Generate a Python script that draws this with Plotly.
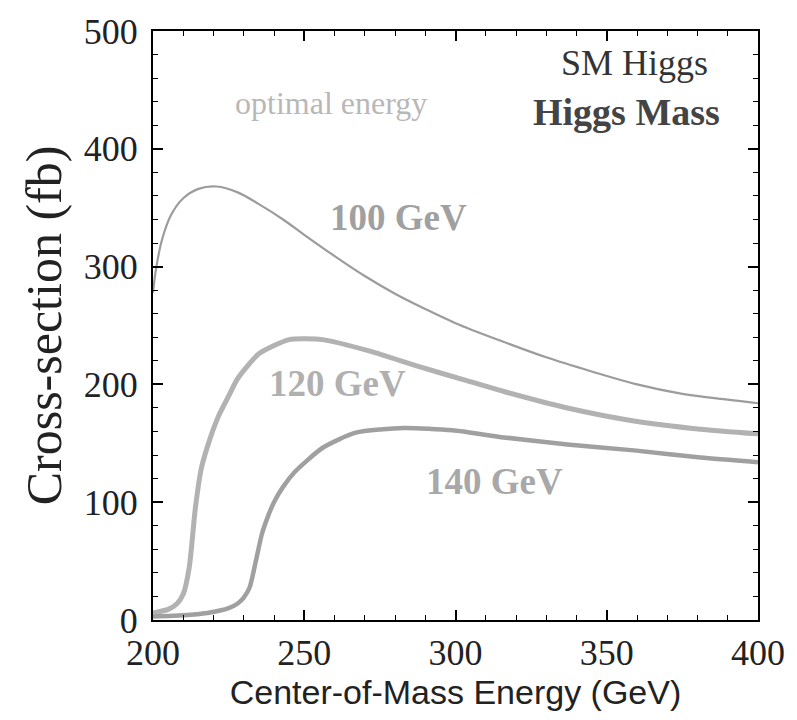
import plotly.graph_objects as go

# Center-of-mass energy (GeV) and cross-section (fb)
x_100 = [200, 201, 203, 206, 210, 215, 221, 228, 235, 243, 250, 260, 270, 280, 290, 300, 315, 330, 345, 360, 375, 390, 400]
y_100 = [278, 298, 323, 344, 358, 366, 368, 363, 353, 340, 327, 309, 292, 277, 264, 252, 237, 223, 211, 200, 192, 187, 184]

x_120 = [200, 205, 208, 210, 212, 214, 216, 219, 222, 225, 228, 235, 245, 256, 272, 288, 304, 316, 337, 359, 381, 400]
y_120 = [6, 9, 14, 22, 45, 95, 129, 155, 175, 190, 205, 226, 238, 238, 228, 215, 203, 194, 180, 169, 162, 158]

x_140 = [200, 210, 218, 225, 228, 230, 232, 234, 236, 238, 240, 243, 247, 256, 267, 283, 299, 316, 337, 359, 381, 400]
y_140 = [3, 4, 6, 10, 14, 19, 28, 50, 73, 88, 100, 113, 126, 146, 159, 163, 161, 155, 149, 144, 138, 134]

x_ticks = [200, 250, 300, 350, 400]
y_ticks = [0, 100, 200, 300, 400, 500]

SERIF = "Liberation Serif, Times New Roman, serif"
SANS = "Liberation Sans, Arial, sans-serif"

fig = go.Figure()
fig.add_trace(go.Scatter(x=x_100, y=y_100, mode="lines", line=dict(color="#9c9c9c", width=2.2, shape="spline", smoothing=1.0), name="100 GeV"))
fig.add_trace(go.Scatter(x=x_120, y=y_120, mode="lines", line=dict(color="#b2b2b2", width=5, shape="spline", smoothing=0.6), name="120 GeV"))
fig.add_trace(go.Scatter(x=x_140, y=y_140, mode="lines", line=dict(color="#a0a0a0", width=4.5, shape="spline", smoothing=0.6), name="140 GeV"))

annots = [
    dict(text="optimal energy", x=259, y=439, font=dict(family=SERIF, size=32, color="#b8b8b8"), xanchor="center"),
    dict(text="<b>100 GeV</b>", x=281, y=342, font=dict(family=SERIF, size=37, color="#a0a0a0"), xanchor="center"),
    dict(text="<b>120 GeV</b>", x=261, y=201, font=dict(family=SERIF, size=37, color="#b0b0b0"), xanchor="center"),
    dict(text="<b>140 GeV</b>", x=313, y=118, font=dict(family=SERIF, size=37, color="#a8a8a8"), xanchor="center"),
    dict(text="SM Higgs", x=384, y=473, font=dict(family=SERIF, size=36, color="#333333"), xanchor="right"),
    dict(text="<b>Higgs Mass</b>", x=388, y=431, font=dict(family=SERIF, size=38, color="#444444"), xanchor="right"),
]
for a in annots:
    fig.add_annotation(xref="x", yref="y", showarrow=False, yanchor="middle", **a)

fig.update_layout(
    width=797, height=720,
    margin=dict(l=153, r=32, t=28, b=100),
    paper_bgcolor="white", plot_bgcolor="white",
    showlegend=False,
)
fig.update_xaxes(
    range=[200, 400], tickvals=x_ticks, ticktext=[str(v) for v in x_ticks],
    showgrid=False, zeroline=False,
    showline=True, linecolor="black", linewidth=2, mirror="ticks",
    ticks="inside", ticklen=10, tickwidth=1.5, tickcolor="black",
    minor=dict(dtick=10, ticks="inside", ticklen=5, tickcolor="black", tickwidth=1.2),
    tickfont=dict(family=SERIF, size=36, color="#222"),
    title=dict(text="Center-of-Mass Energy (GeV)", font=dict(family=SANS, size=34, color="#222"), standoff=4),
)
fig.update_yaxes(
    range=[0, 500], tickvals=y_ticks, ticktext=[str(v) for v in y_ticks],
    showgrid=False, zeroline=False,
    showline=True, linecolor="black", linewidth=2, mirror="ticks",
    ticks="inside", ticklen=10, tickwidth=1.5, tickcolor="black",
    minor=dict(dtick=20, ticks="inside", ticklen=5, tickcolor="black", tickwidth=1.2),
    tickfont=dict(family=SERIF, size=36, color="#222"),
    ticklabelstandoff=6,
    title=dict(text="Cross-section (fb)", font=dict(family=SERIF, size=50, color="#222"), standoff=6),
)

fig.write_html("out.html")
